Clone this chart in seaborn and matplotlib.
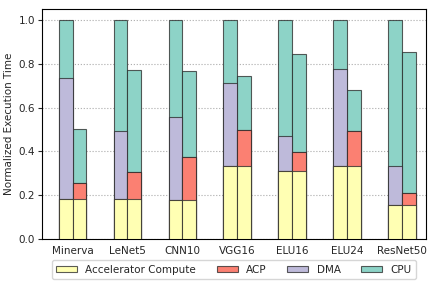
import pandas as pd
import matplotlib
matplotlib.use('Agg')
import matplotlib.pyplot as plt
import seaborn as sns
from matplotlib.patches import Patch

# du lieu doc tu hinh
models = ['Minerva', 'LeNet5', 'CNN10', 'VGG16', 'ELU16', 'ELU24', 'ResNet50']
configs = ['DMA', 'ACP']

# cot trai (DMA)
base_acc = [0.181, 0.184, 0.180, 0.336, 0.309, 0.335, 0.154]
base_dma = [0.553, 0.311, 0.379, 0.376, 0.160, 0.443, 0.182]
base_cpu = [0.266, 0.505, 0.441, 0.288, 0.531, 0.222, 0.664]

# cot phai (ACP)
acp_acc = [0.181, 0.184, 0.180, 0.336, 0.309, 0.335, 0.154]
acp_acp = [0.073, 0.123, 0.197, 0.160, 0.087, 0.157, 0.057]
acp_cpu = [0.248, 0.463, 0.389, 0.248, 0.450, 0.190, 0.642]

labels = ['Accelerator Compute', 'ACP', 'DMA', 'CPU']
colors = ['#ffffb3', '#fb8072', '#bebada', '#8dd3c7']

rows = []
for i, m in enumerate(models):
    rows.append(dict(model=m, config='DMA', acc=base_acc[i], acp=0.0,
                     dma=base_dma[i], cpu=base_cpu[i]))
    rows.append(dict(model=m, config='ACP', acc=acp_acc[i], acp=acp_acp[i],
                     dma=0.0, cpu=acp_cpu[i]))
df = pd.DataFrame(rows)
df['l1'] = df['acc']
df['l2'] = df['l1'] + df['acp']
df['l3'] = df['l2'] + df['dma']
df['l4'] = df['l3'] + df['cpu']

sns.set_style('ticks')
plt.rcParams['font.family'] = ['DejaVu Sans']

fig = plt.figure(figsize=(4.36, 2.86), dpi=100)
ax = fig.add_axes([0.096, 0.164, 0.881, 0.804])

edge = (0.15, 0.15, 0.15, 0.75)

# ve tu tren xuong duoi de tao cot chong
for col, c in zip(['l4', 'l3', 'l2', 'l1'], colors[::-1]):
    sns.barplot(data=df, x='model', y=col, hue='config', hue_order=configs,
                palette=[c, c], saturation=1, width=0.5, dodge=True, legend=False,
                edgecolor=edge, linewidth=0.8, ax=ax, zorder=3)

ax.set_xlim(-0.56, 6.44)
ax.set_ylim(0, 1.05)
ax.set_yticks([0.0, 0.2, 0.4, 0.6, 0.8, 1.0])
ax.yaxis.grid(True, linestyle=':', color='#aaaaaa', linewidth=0.8, zorder=0)
ax.set_axisbelow(True)
ax.set_xlabel('')
ax.set_ylabel('Normalized Execution Time', fontsize=7.5, labelpad=3)
ax.tick_params(axis='both', labelsize=7.5)
ax.tick_params(axis='x', length=0, pad=5)
ax.tick_params(axis='y', length=3, pad=2)
for s in ax.spines.values():
    s.set_visible(True)
    s.set_color('black')
    s.set_linewidth(0.8)

handles = [Patch(facecolor=c, edgecolor=edge, linewidth=0.8, label=l)
           for l, c in zip(labels, colors)]
ax.legend(handles=handles, ncol=4, loc='upper center', bbox_to_anchor=(0.5, -0.07),
          fontsize=7.5, frameon=True, handlelength=2.0, columnspacing=2.0,
          borderpad=0.4, handletextpad=0.8, handleheight=0.6)

fig.savefig('out.png', dpi=100)
